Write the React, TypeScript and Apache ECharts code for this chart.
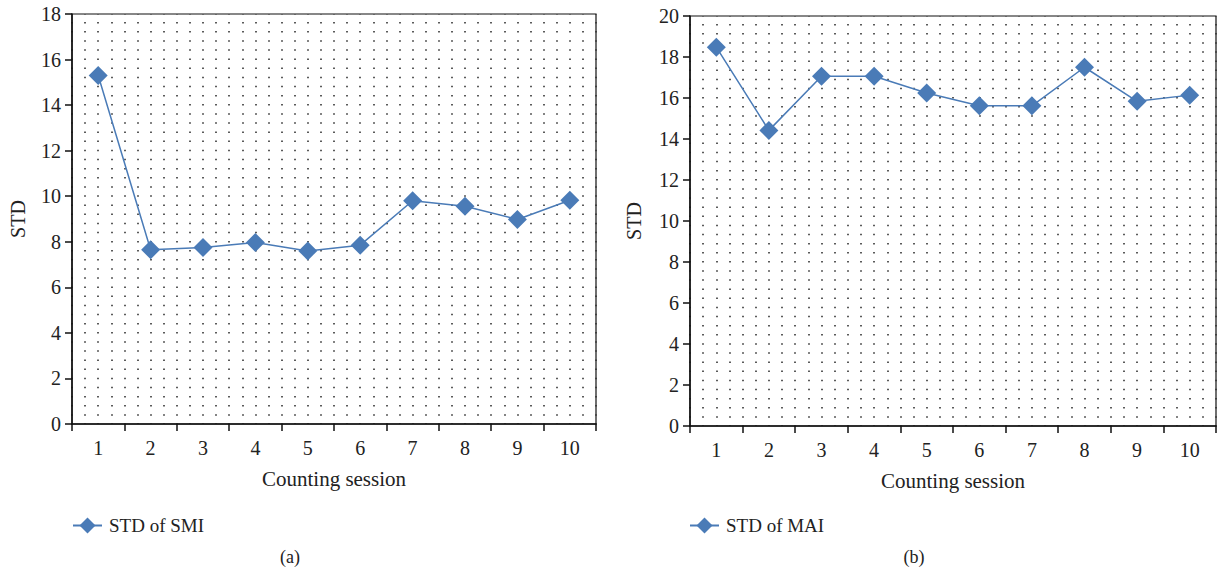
import React, { useEffect, useRef } from "react";
import * as echarts from "echarts";

const sessions = ["1", "2", "3", "4", "5", "6", "7", "8", "9", "10"];
const smiStd = [15.3, 7.65, 7.75, 7.97, 7.6, 7.85, 9.8, 9.56, 8.98, 9.82];
const maiStd = [18.48, 14.42, 17.06, 17.06, 16.24, 15.62, 15.62, 17.5, 15.84, 16.14];

const FONT = "Liberation Serif";
const COLOR = "#4a7bb7";

export default function App() {
  const ref = useRef<HTMLDivElement>(null);
  useEffect(() => {
    if (!ref.current) return;
    const chart = echarts.init(ref.current, undefined, { renderer: "svg" });
    const grids = [
      { left: 72, top: 14, width: 524, height: 410 },
      { left: 690, top: 16, width: 526, height: 410 },
    ];
    const catAxis = (gi: number) => ({
      type: "category",
      gridIndex: gi,
      data: sessions,
      boundaryGap: true,
      axisLine: { lineStyle: { color: "#111", width: 1.5 } },
      axisTick: { show: true, length: 7, alignWithLabel: false, lineStyle: { color: "#111", width: 1.5 } },
      axisLabel: { fontFamily: FONT, fontSize: 20, color: "#222", margin: 14 },
      name: "Counting session",
      nameLocation: "middle",
      nameGap: 44,
      nameTextStyle: { fontFamily: FONT, fontSize: 21, color: "#222" },
      splitLine: { show: false },
      z: 5,
    });
    const dotAxis = (gi: number) => ({
      type: "value",
      gridIndex: gi,
      min: 0,
      max: 40,
      interval: 1,
      position: "top",
      axisLine: { show: false },
      axisTick: { show: false },
      axisLabel: { show: false },
      splitLine: {
        show: true,
        lineStyle: { color: "#333", width: 1.6, type: [1.5, 7.62], dashOffset: -8 },
      },
    });
    const valAxis = (gi: number, max: number, gap: number) => ({
      type: "value",
      gridIndex: gi,
      min: 0,
      max,
      interval: 2,
      axisLine: { show: true, lineStyle: { color: "#111", width: 1.5 } },
      axisTick: { show: true, length: 7, lineStyle: { color: "#111", width: 1.5 } },
      axisLabel: { fontFamily: FONT, fontSize: 20, color: "#222", margin: 11 },
      splitLine: { show: false },
      name: "STD",
      nameLocation: "middle",
      nameGap: gap,
      nameTextStyle: { fontFamily: FONT, fontSize: 20, color: "#222" },
    });
    const series = (name: string, data: number[], gi: number) => ({
      name,
      type: "line",
      xAxisIndex: gi * 2,
      yAxisIndex: gi,
      data,
      symbol: "diamond",
      symbolSize: 19,
      lineStyle: { color: COLOR, width: 1.5 },
      itemStyle: { color: COLOR },
      z: 10,
    });
    const legendText = { fontFamily: FONT, fontSize: 19, color: "#222", padding: [0, 0, 0, 2] };
    chart.setOption({
      animation: false,
      backgroundColor: "#fff",
      grid: grids.map((g) => ({ ...g, show: true, borderColor: "#111", borderWidth: 1.2, backgroundColor: "#fff" })),
      xAxis: [catAxis(0), dotAxis(0), catAxis(1), dotAxis(1)],
      yAxis: [valAxis(0, 18, 44), valAxis(1, 20, 46)],
      series: [series("STD of SMI", smiStd, 0), series("STD of MAI", maiStd, 1)],
      legend: [
        {
          data: ["STD of SMI"],
          left: 67,
          top: 511,
          itemWidth: 29,
          itemHeight: 20,
          itemGap: 5,
          textStyle: legendText,
        },
        {
          data: ["STD of MAI"],
          left: 684,
          top: 511,
          itemWidth: 29,
          itemHeight: 20,
          itemGap: 5,
          textStyle: legendText,
        },
      ],
      graphic: [
        { type: "text", x: 290, y: 557, style: { text: "(a)", fontFamily: FONT, fontSize: 18, fill: "#222", textAlign: "center", textVerticalAlign: "middle" } },
        { type: "text", x: 914, y: 557, style: { text: "(b)", fontFamily: FONT, fontSize: 18, fill: "#222", textAlign: "center", textVerticalAlign: "middle" } },
      ],
    });
    return () => chart.dispose();
  }, []);
  return <div ref={ref} style={{ position: "fixed", left: 0, top: 0, width: 1218, height: 575 }} />;
}
